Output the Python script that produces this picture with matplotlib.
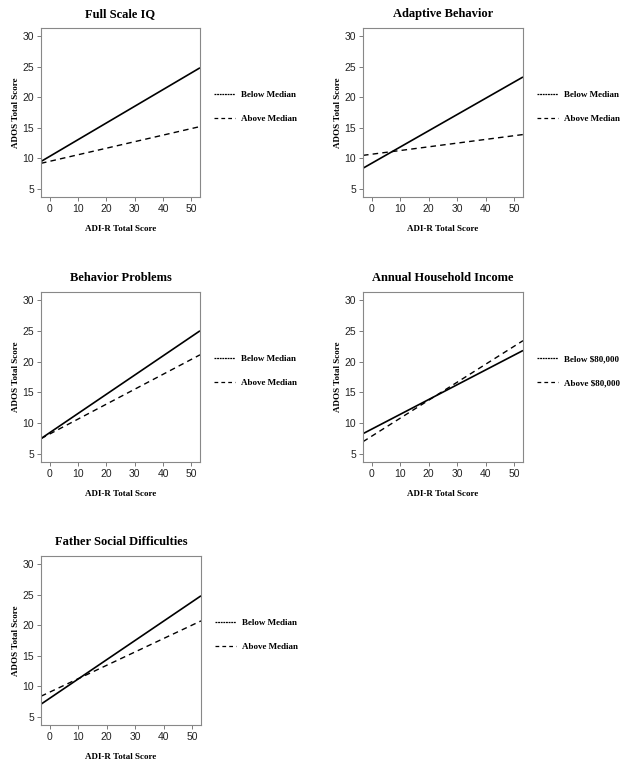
import matplotlib.pyplot as plt
from matplotlib.lines import Line2D

# line endpoints (x at left/right edge of each panel)
adi_x = [-3, 53]

titles = ['Full Scale IQ', 'Adaptive Behavior', 'Behavior Problems',
          'Annual Household Income', 'Father Social Difficulties']
below_y = [[9.5, 24.8], [8.4, 23.3], [7.5, 25.0], [8.3, 21.8], [7.1, 24.8]]
above_y = [[9.2, 15.2], [10.5, 13.9], [7.5, 21.1], [7.0, 23.4], [8.4, 20.7]]
legend_labels = [['Below Median', 'Above Median'],
                 ['Below Median', 'Above Median'],
                 ['Below Median', 'Above Median'],
                 ['Below $80,000', 'Above $80,000'],
                 ['Below Median', 'Above Median']]

xticks = [0, 10, 20, 30, 40, 50]
yticks = [5, 10, 15, 20, 25, 30]

W, H = 628, 770
fig = plt.figure(figsize=(W / 100, H / 100), dpi=100)

# axes boxes in pixels: left, top, right, bottom
boxes = [(41, 28, 200, 197), (363, 28, 523, 197),
         (41, 292, 200, 462), (363, 292, 523, 462),
         (41, 556, 201, 725)]

serif = 'Liberation Serif'
sans = 'Liberation Sans'

for i in range(5):
    l, t, r, b = boxes[i]
    ax = fig.add_axes([l / W, 1 - b / H, (r - l) / W, (b - t) / H])
    ax.plot(adi_x, below_y[i], color='black', lw=1.2, solid_capstyle='butt')
    ax.plot(adi_x, above_y[i], color='black', lw=1.0, dashes=(4, 3))
    ax.set_xlim(-3, 53)
    ax.set_ylim(3.7, 31.3)
    ax.set_xticks(xticks)
    ax.set_yticks(yticks)
    for lab in ax.get_xticklabels() + ax.get_yticklabels():
        lab.set_fontfamily(sans)
        lab.set_fontsize(7.5)
        lab.set_color('#222222')
    ax.tick_params(direction='out', length=3, width=0.6, color='#666666', pad=2)
    for s in ax.spines.values():
        s.set_color('#888888')
        s.set_linewidth(0.8)
    ax.set_title(titles[i], fontfamily=serif, fontweight='bold', fontsize=9, pad=8)
    ax.set_xlabel('ADI-R Total Score', fontfamily=serif, fontweight='bold', fontsize=6.5, labelpad=8)
    ax.set_ylabel('ADOS Total Score', fontfamily=serif, fontweight='bold', fontsize=6.5, labelpad=2)

    handles = [Line2D([], [], color='black', lw=0.9, dashes=(1.5, 0.6)),
               Line2D([], [], color='black', lw=0.9, dashes=(3, 2.5))]
    ax.legend(handles, legend_labels[i], loc='center left', bbox_to_anchor=(1.035, 0.535),
              frameon=False, handlelength=2.4, handletextpad=0.6, labelspacing=1.75,
              prop={'family': serif, 'weight': 'bold', 'size': 6.5})

fig.savefig('out.png', dpi=100)
